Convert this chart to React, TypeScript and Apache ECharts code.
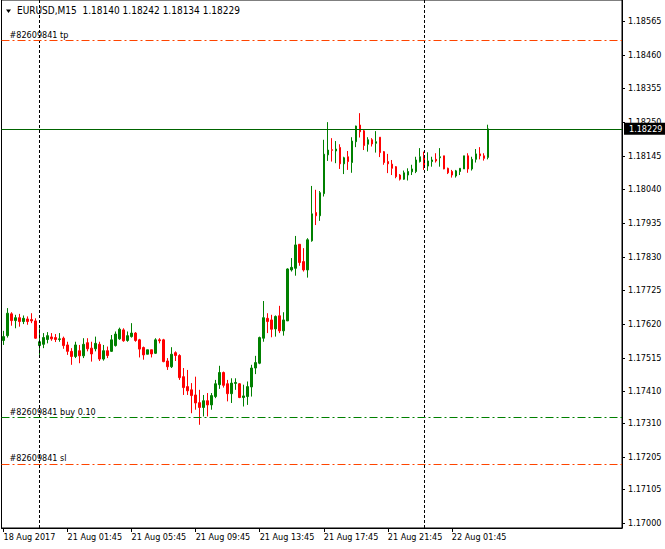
import React, { useEffect, useRef } from "react";
import * as echarts from "echarts";

const FONT = "'DejaVu Sans Condensed', 'DejaVu Sans', sans-serif";

// OHLC of the EURUSD M15 bars (oldest first)
const opens = [
  1.17569, 1.17584, 1.17652, 1.17631, 1.1764, 1.17628, 1.17636, 1.17634, 1.1763, 1.17553,
  1.17557, 1.17572, 1.1758, 1.17578, 1.17572, 1.17576, 1.17555, 1.17535, 1.17519, 1.17537,
  1.17521, 1.17562, 1.17545, 1.17543, 1.17557, 1.17511, 1.17537, 1.17535, 1.17553, 1.17574,
  1.17602, 1.17569, 1.17581, 1.17592, 1.17571, 1.17547, 1.17526, 1.1754, 1.17529, 1.17571,
  1.17571, 1.17505, 1.17487, 1.17531, 1.17522, 1.17456, 1.17425, 1.17415, 1.17399, 1.17375,
  1.1736, 1.17381, 1.17368, 1.17394, 1.17431, 1.17469, 1.17434, 1.17403, 1.17435, 1.17434,
  1.17391, 1.17394, 1.17424, 1.17483, 1.17498, 1.17576, 1.17638, 1.17633, 1.17605, 1.17646,
  1.17599, 1.1763, 1.17789, 1.17794, 1.17869, 1.17815, 1.17789, 1.1788, 1.17968, 1.17958,
  1.18027, 1.18148, 1.18164, 1.1816, 1.18171, 1.1812, 1.18142, 1.18124, 1.18189, 1.18241,
  1.18223, 1.18181, 1.18195, 1.18184, 1.18203, 1.18158, 1.18127, 1.18119, 1.18111, 1.18085,
  1.18072, 1.18085, 1.18095, 1.18096, 1.18127, 1.18145, 1.18113, 1.18127, 1.18134, 1.18139,
  1.18145, 1.18106, 1.18096, 1.18082, 1.18096, 1.18104, 1.18145, 1.18104, 1.18134, 1.18151,
  1.18145, 1.1814,
];
const closes = [
  1.17581, 1.17654, 1.17631, 1.1764, 1.17628, 1.17638, 1.17628, 1.1763, 1.17576, 1.17565,
  1.17578, 1.17584, 1.17574, 1.17572, 1.17574, 1.17553, 1.17535, 1.17519, 1.17555, 1.17521,
  1.17557, 1.17543, 1.17527, 1.1756, 1.17511, 1.17537, 1.17522, 1.17571, 1.17589, 1.17604,
  1.17568, 1.17584, 1.17592, 1.17569, 1.17542, 1.17524, 1.1754, 1.17527, 1.17571, 1.17568,
  1.17503, 1.17487, 1.17526, 1.17522, 1.17453, 1.17422, 1.17412, 1.17397, 1.17374, 1.1736,
  1.17381, 1.17368, 1.17397, 1.17434, 1.17469, 1.17429, 1.17403, 1.17436, 1.17438, 1.17391,
  1.17396, 1.17425, 1.17483, 1.175, 1.17578, 1.1764, 1.17628, 1.17604, 1.17644, 1.17599,
  1.17633, 1.17792, 1.17797, 1.17867, 1.17812, 1.17789, 1.17883, 1.17964, 1.17958, 1.1803,
  1.1815, 1.18163, 1.18162, 1.18166, 1.1812, 1.18139, 1.18127, 1.18191, 1.18238, 1.1822,
  1.18177, 1.18195, 1.18182, 1.18189, 1.18155, 1.18124, 1.1812, 1.18106, 1.1808, 1.18072,
  1.18092, 1.18096, 1.18104, 1.18132, 1.18142, 1.18111, 1.18129, 1.18132, 1.18129, 1.18142,
  1.18104, 1.18092, 1.18085, 1.18098, 1.18106, 1.18145, 1.18104, 1.18134, 1.18151, 1.18145,
  1.18137, 1.18229,
];
const lows = [
  1.17555, 1.17578, 1.17615, 1.17607, 1.17612, 1.1762, 1.17618, 1.17623, 1.17574, 1.17524,
  1.17545, 1.1756, 1.17568, 1.17564, 1.17565, 1.17543, 1.17524, 1.17493, 1.17514, 1.17498,
  1.17514, 1.17535, 1.17503, 1.17535, 1.17505, 1.17506, 1.17514, 1.17533, 1.1755, 1.17571,
  1.17565, 1.17565, 1.17578, 1.17565, 1.17516, 1.17509, 1.17526, 1.17516, 1.17527, 1.1756,
  1.17501, 1.17477, 1.17483, 1.17505, 1.17446, 1.17399, 1.17399, 1.17342, 1.17353, 1.17306,
  1.17332, 1.17332, 1.17353, 1.17389, 1.17418, 1.17422, 1.17379, 1.17374, 1.17415, 1.17389,
  1.17363, 1.17368, 1.17394, 1.17464, 1.17495, 1.17565, 1.17592, 1.17579, 1.17581, 1.17592,
  1.17584, 1.1763, 1.17784, 1.17771, 1.17802, 1.17784, 1.17765, 1.17877, 1.17929, 1.17942,
  1.18018, 1.18129, 1.18127, 1.18122, 1.18104, 1.18088, 1.18101, 1.18092, 1.18172, 1.18202,
  1.18163, 1.18158, 1.18174, 1.18155, 1.18141, 1.18117, 1.18091, 1.18085, 1.18075, 1.18068,
  1.1807, 1.18068, 1.18085, 1.18091, 1.18124, 1.18101, 1.18098, 1.18111, 1.18124, 1.18111,
  1.18103, 1.18088, 1.18077, 1.18077, 1.18085, 1.18104, 1.18092, 1.18099, 1.18124, 1.18134,
  1.1813, 1.18134,
];
const highs = [
  1.17599, 1.1767, 1.17657, 1.17649, 1.17652, 1.17647, 1.17644, 1.17654, 1.17638, 1.17607,
  1.17592, 1.17595, 1.17592, 1.17589, 1.17592, 1.17581, 1.17565, 1.17545, 1.17565, 1.17555,
  1.17576, 1.17576, 1.17565, 1.17581, 1.17565, 1.17555, 1.1755, 1.17586, 1.17597, 1.17609,
  1.17607, 1.17597, 1.17623, 1.17595, 1.17574, 1.1755, 1.1754, 1.1754, 1.17576, 1.17576,
  1.17574, 1.17514, 1.17548, 1.17535, 1.17526, 1.17483, 1.17477, 1.17436, 1.17456, 1.17415,
  1.17399, 1.17405, 1.17405, 1.17446, 1.1749, 1.17472, 1.17446, 1.17451, 1.17451, 1.17436,
  1.17431, 1.17441, 1.17493, 1.17521, 1.17581, 1.17692, 1.17654, 1.17649, 1.17647, 1.17677,
  1.17657, 1.17794, 1.17826, 1.17895, 1.17869, 1.17857, 1.17888, 1.18051, 1.18039, 1.18035,
  1.18195, 1.1825, 1.182, 1.18191, 1.18181, 1.18142, 1.1816, 1.18203, 1.18239, 1.18278,
  1.18226, 1.18203, 1.182, 1.18222, 1.18203, 1.1816, 1.18151, 1.18132, 1.18113, 1.18088,
  1.18099, 1.18106, 1.18117, 1.18142, 1.18169, 1.18158, 1.18156, 1.18142, 1.18153, 1.18169,
  1.18145, 1.18108, 1.18101, 1.18101, 1.18106, 1.18145, 1.18153, 1.18142, 1.18166, 1.18172,
  1.18153, 1.18242,
];

// time axis: first bars on Fri 18 Aug, the rest from Mon 21 Aug 00:00; empty slots to the right (chart shift)
const FRIDAY_BARS = 9;
const TOTAL_SLOTS = 155;
const labelIndices = [0, 16, 32, 48, 64, 80, 96, 112];
const labelTexts = [
  "18 Aug 2017",
  "21 Aug 01:45",
  "21 Aug 05:45",
  "21 Aug 09:45",
  "21 Aug 13:45",
  "21 Aug 17:45",
  "21 Aug 21:45",
  "22 Aug 01:45",
];
const daySeparators = [9, 105];

const priceTicks = [
  1.17, 1.17105, 1.17205, 1.1731, 1.1741, 1.17515, 1.1762, 1.17725, 1.1783, 1.17935, 1.1804,
  1.18145, 1.1825, 1.18355, 1.1846, 1.18565,
];
const yMin = 1.16984;
const yMax = 1.18631;

const orderLabels = ["#82609841 tp", "#82609841 buy 0.10", "#82609841 sl"];
const orderPrices = [1.18506, 1.1733, 1.17184];
const orderColors = ["#ff4500", "#008000", "#ff4500"];
const bidPrice = 1.18229;
const title = "EURUSD,M15  1.18140 1.18242 1.18134 1.18229";

function slotTime(i: number): string {
  const pad = (n: number) => (n < 10 ? "0" + n : "" + n);
  let day: number;
  let minutes: number;
  if (i < FRIDAY_BARS) {
    day = 18;
    minutes = 24 * 60 - (FRIDAY_BARS - i) * 15;
  } else {
    const m = (i - FRIDAY_BARS) * 15;
    day = 21 + Math.floor(m / 1440);
    minutes = m % 1440;
  }
  return `${day} Aug ${pad(Math.floor(minutes / 60))}:${pad(minutes % 60)}`;
}

export default function App() {
  const ref = useRef<HTMLDivElement>(null);
  useEffect(() => {
    if (!ref.current) return;
    const chart = echarts.init(ref.current, undefined, { renderer: "svg" });
    const categories = Array.from({ length: TOTAL_SLOTS }, (_, i) => slotTime(i));
    const candles = opens.map((o, i) => [o, closes[i], lows[i], highs[i]]);
    const labelSet = new Set(labelIndices);

    const sepData: any[] = daySeparators.map((idx) => ({
      xAxis: categories[idx],
      lineStyle: { color: "#000", type: [3, 2], width: 1 },
      label: { show: false },
    }));
    const levelData: any[] = orderPrices.map((p, k) => ({
      yAxis: p,
      lineStyle: { color: orderColors[k], type: [8, 3, 2, 3], width: 1 },
      label: {
        show: true,
        position: "insideStartTop",
        distance: [8, 1],
        formatter: orderLabels[k],
        color: "#000",
        fontFamily: FONT,
        fontSize: 9,
      },
    }));
    levelData.push({
      yAxis: bidPrice,
      lineStyle: { color: "#006400", type: "solid", width: 1 },
      label: {
        show: true,
        position: "end",
        distance: 2,
        formatter: bidPrice.toFixed(5),
        color: "#fff",
        backgroundColor: "#000",
        padding: [2, 8, 1, 5],
        fontFamily: FONT,
        fontSize: 9,
      },
    });

    chart.setOption({
      animation: false,
      backgroundColor: "#fff",
      textStyle: { fontFamily: FONT },
      grid: {
        left: 1.5,
        right: 43,
        top: 0,
        bottom: 21,
        show: true,
        borderColor: "#000",
        borderWidth: 1,
        backgroundColor: "#fff",
      },
      graphic: [
        {
          type: "polygon",
          shape: { points: [[6, 9.5], [11, 9.5], [8.5, 13]] },
          style: { fill: "#000" },
        },
        {
          type: "text",
          left: 17,
          top: 5,
          style: { text: title, fill: "#000", font: `10px ${FONT}` },
        },
      ],
      xAxis: {
        type: "category",
        data: categories,
        boundaryGap: true,
        axisLine: { show: true, lineStyle: { color: "#000", width: 1 } },
        axisTick: {
          show: true,
          alignWithLabel: true,
          interval: (i: number) => labelSet.has(i),
          length: 4,
          lineStyle: { color: "#000" },
        },
        axisLabel: {
          show: true,
          interval: (i: number) => labelSet.has(i),
          formatter: (_v: string, i: number) => labelTexts[labelIndices.indexOf(i)] ?? "",
          align: "left",
          margin: 4,
          color: "#000",
          fontFamily: FONT,
          fontSize: 9,
        },
        splitLine: { show: false },
      },
      yAxis: {
        type: "value",
        position: "right",
        min: yMin,
        max: yMax,
        scale: true,
        axisLine: { show: true, lineStyle: { color: "#000", width: 1 } },
        axisTick: {
          show: true,
          length: 3,
          customValues: priceTicks,
          lineStyle: { color: "#000" },
        },
        axisLabel: {
          show: true,
          customValues: priceTicks,
          formatter: (v: number) => v.toFixed(5),
          margin: 6,
          color: "#000",
          fontFamily: FONT,
          fontSize: 9,
        },
        splitLine: { show: false },
      },
      series: [
        {
          type: "candlestick",
          data: candles,
          barWidth: 2,
          itemStyle: {
            color: "#008000",
            color0: "#ff0000",
            borderColor: "#008000",
            borderColor0: "#ff0000",
            borderWidth: 1,
          },
          markLine: {
            silent: true,
            symbol: ["none", "none"],
            animation: false,
            data: sepData,
          },
        },
        {
          type: "line",
          data: [],
          z: 5,
          markLine: {
            silent: true,
            symbol: ["none", "none"],
            animation: false,
            precision: 5,
            data: levelData,
          },
        },
      ],
    });
    return () => chart.dispose();
  }, []);
  return (
    <div
      ref={ref}
      style={{ position: "fixed", left: 0, top: 0, width: 665, height: 549, background: "#fff" }}
    />
  );
}
